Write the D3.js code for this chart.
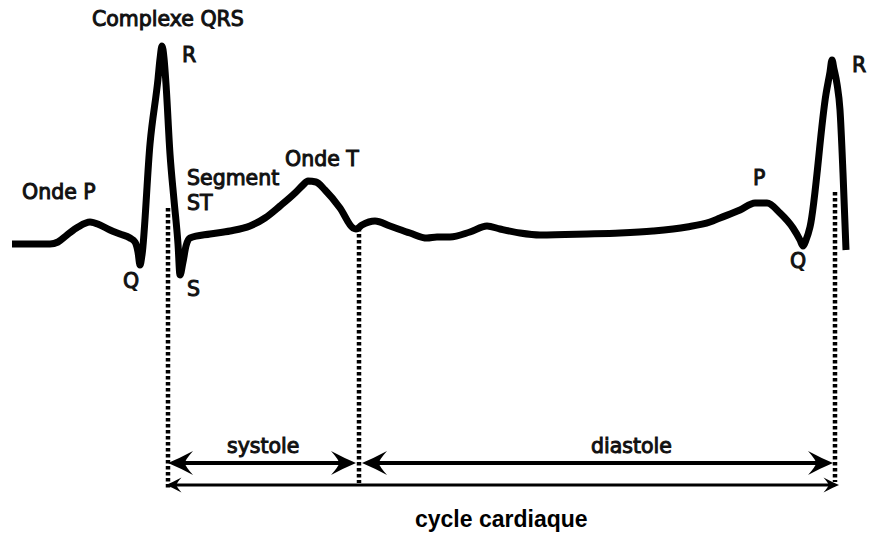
<!DOCTYPE html>
<html>
<head>
<meta charset="utf-8">
<script src="https://cdn.jsdelivr.net/npm/d3@7/dist/d3.min.js"></script>
<style>
  html, body { margin: 0; padding: 0; background: #fff; }
  svg { display: block; }
</style>
</head>
<body>
<svg id="chart" width="870" height="537"></svg>
<script>
// ---- Data (time in arbitrary units, amplitude relative to baseline, positive up) ----
const ecgT = [12, 50, 58, 67, 78, 90, 100, 110, 120, 130, 135, 138, 140, 142, 150, 158, 160, 162, 164, 166, 170, 174, 178, 180, 183, 186, 190, 210, 230, 250, 265, 280, 295, 303, 308, 316, 325, 340, 353, 356, 362, 375, 390, 410, 427, 437, 450, 470, 487, 500, 520, 540, 587, 620, 653, 687, 710, 720, 740, 755, 767, 780, 793, 800, 803, 806, 810, 826, 830, 832, 834, 837, 840, 843, 846];
const ecgV = [0, 0, 2, 9, 17, 22, 19, 14, 10, 6, 2, -8, -21, -11, 100, 165, 185, 198, 186, 160, 90, 44, 0, -31, -18, -2, 6, 10, 13, 18, 26, 38, 51, 59, 63, 62, 54, 36, 16, 15, 19, 23, 18, 11, 6, 7, 7, 12, 18, 15, 11, 9, 10, 11, 13, 17, 22, 26, 34, 41, 41, 31, 16, 4, -2, 4, 17, 150, 172, 184, 175, 160, 134, 71, -6];
const ecgPoints = ecgT.map((t, i) => ({ t, v: ecgV[i] }));

// vertical dotted markers
const markerT = [168, 359, 835];
const markerTopV = [36, 16, 52];
const markerBottomV = [-246, -239, -238];

// phase arrows
const phaseNames = ["systole", "diastole"];
const phaseStart = [168, 362];
const phaseEnd = [356, 833];
const phaseLabelT = [227, 591];
const cycleName = "cycle cardiaque";
const cycleStart = [166];
const cycleEnd = [839];

// wave labels
const labelText = ["Complexe QRS", "R", "Onde P", "Segment", "ST", "Q", "S", "Onde T", "P", "Q", "R"];
const labelT = [92, 182, 22, 187, 187, 123, 187, 285, 753, 790, 852];
const labelV = [218, 182, 45, 59, 34, -44, -52, 78, 59, -24, 172];

// ---- Scales ----
const x = d3.scaleLinear().domain([0, 870]).range([0, 870]);
const y = d3.scaleLinear().domain([0, 100]).range([244, 144]);

const svg = d3.select("#chart");

// ECG trace
svg.append("path")
  .datum(ecgPoints)
  .attr("d", d3.line().x(d => x(d.t)).y(d => y(d.v)).curve(d3.curveMonotoneX))
  .attr("fill", "none")
  .attr("stroke", "#000")
  .attr("stroke-width", 7)
  .attr("stroke-linejoin", "round")
  .attr("stroke-linecap", "butt");

// dotted markers
svg.selectAll("line.marker")
  .data(markerT)
  .enter().append("line")
  .attr("class", "marker")
  .attr("x1", d => x(d)).attr("x2", d => x(d))
  .attr("y1", (d, i) => y(markerTopV[i]))
  .attr("y2", (d, i) => y(markerBottomV[i]))
  .attr("stroke", "#000")
  .attr("stroke-width", 4.5)
  .attr("stroke-dasharray", "3.5 2.5");

// arrowheads
function head(g, tipX, tipY, dir, s) {
  g.append("path")
    .attr("d", "M0,0 Q-12,-5 -25,-12 Q-17,-3 -17,0 Q-17,3 -25,12 Q-12,5 0,0 Z")
    .attr("transform", `translate(${tipX},${tipY}) scale(${dir * s},${s})`)
    .attr("fill", "#000");
}

const arrows = svg.append("g");
const yUpper = 463, yLower = 485;
phaseNames.forEach((n, i) => {
  arrows.append("line")
    .attr("x1", x(phaseStart[i]) + 10).attr("x2", x(phaseEnd[i]) - 10)
    .attr("y1", yUpper).attr("y2", yUpper)
    .attr("stroke", "#000").attr("stroke-width", 4);
  head(arrows, x(phaseStart[i]), yUpper, -1, 1);
  head(arrows, x(phaseEnd[i]), yUpper, 1, 1);
});
arrows.append("line")
  .attr("x1", x(cycleStart[0]) + 6).attr("x2", x(cycleEnd[0]) - 6)
  .attr("y1", yLower).attr("y2", yLower)
  .attr("stroke", "#000").attr("stroke-width", 3);
head(arrows, x(cycleStart[0]), yLower, -1, 0.62);
head(arrows, x(cycleEnd[0]), yLower, 1, 0.62);

// labels
const labels = svg.append("g")
  .attr("font-family", "DejaVu Sans")
  .attr("font-size", "20.5px")
  .attr("fill", "#111")
  .attr("stroke", "#111")
  .attr("stroke-width", 1.0);
labelText.forEach((t, i) => {
  labels.append("text").attr("x", x(labelT[i])).attr("y", y(labelV[i])).text(t);
});
phaseNames.forEach((n, i) => {
  labels.append("text").attr("x", x(phaseLabelT[i])).attr("y", 453).text(n);
});
svg.append("text")
  .attr("x", x(415)).attr("y", 527)
  .attr("font-family", "Liberation Sans")
  .attr("font-weight", "bold")
  .attr("font-size", "23px")
  .attr("fill", "#000")
  .text(cycleName);
</script>
</body>
</html>
